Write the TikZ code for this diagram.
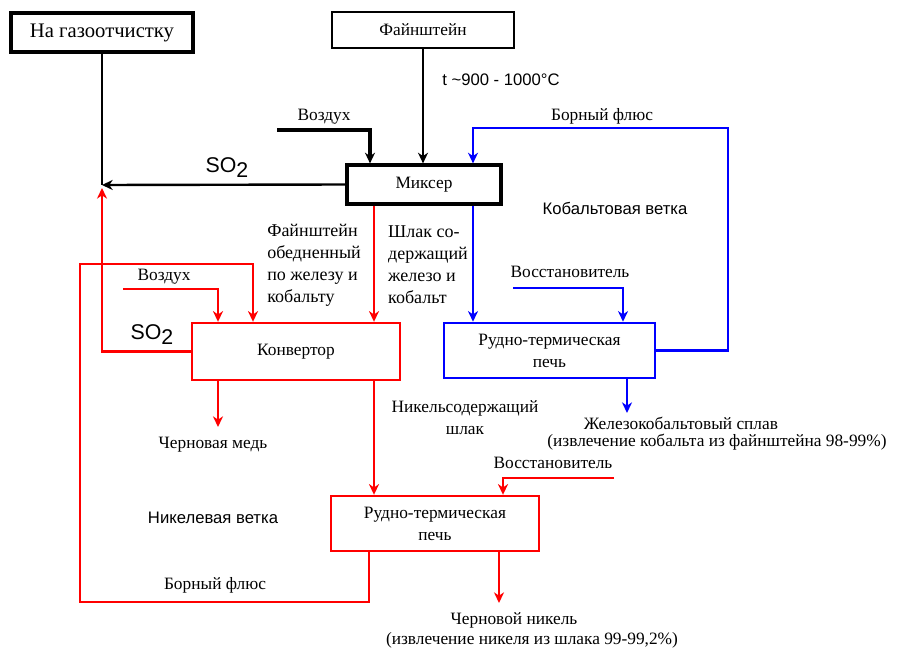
\documentclass[tikz,border=0pt]{standalone}
\usepackage{fontspec}
\setmainfont{Liberation Serif}
\setsansfont{Liberation Sans}
\usetikzlibrary{arrows.meta,calc}
\definecolor{cred}{RGB}{255,0,0}
\definecolor{cblue}{RGB}{0,0,255}
\newcommand{\sotwo}{SO\raisebox{-0.45ex}{\fontsize{16}{18}\selectfont 2}}
\begin{document}
\begin{tikzpicture}[x=0.75pt,y=-0.75pt,
  lbl/.style={font=\fontsize{13}{16.5}\selectfont, inner sep=0pt},
  slbl/.style={font=\sffamily\fontsize{12.5}{15}\selectfont, inner sep=0pt},
  sobig/.style={font=\sffamily\fontsize{16}{18}\selectfont, inner sep=0pt},
  box/.style={draw, rectangle, inner sep=0pt, align=center, font=\fontsize{13}{16.5}\selectfont},
  conn/.style={line width=1.8pt},
  arr/.style={conn, -{Stealth[length=8pt,width=7.5pt,inset=2.5pt]}},
  arrR/.style={arr, cred},
  arrB/.style={arr, cblue}]
\fill[white] (0,0) rectangle (910,660);
\useasboundingbox (0,0) rectangle (910,660);

% boxes
\node[box, line width=2.4pt, minimum width=136.5pt, minimum height=29.25pt, font=\fontsize{15.5}{18}\selectfont] (gas) at (102,32.5) {На газоотчистку};
\node[box, line width=1.8pt, minimum width=136.5pt, minimum height=27pt] (fain) at (423,30) {Файнштейн};
\node[box, line width=2.4pt, minimum width=115.5pt, minimum height=29.25pt] (mixer) at (424,184.5) {Миксер};
\node[box, draw=cred, line width=1.8pt, minimum width=156pt, minimum height=42.75pt] (conv) at (296,351.5) {Конвертор};
\node[box, draw=cblue, line width=1.9pt, minimum width=158.25pt, minimum height=41.25pt] (cofur) at (549.5,350.5) {Рудно-термическая\\печь};
\node[box, draw=cred, line width=1.8pt, minimum width=156pt, minimum height=41.25pt] (nifur) at (435,523.5) {Рудно-термическая\\печь};

% black connectors
\coordinate (so2j) at (102,185);
\draw[conn] (gas.south) -- (so2j);
\draw[arr] (mixer.west) -- (so2j);
\draw[arr] (fain.south) -- (423,0 |- mixer.north);
\coordinate (airB) at (277,130);
\draw[arr, line width=2.4pt] (airB) -| (370,0 |- mixer.north);

% blue connectors
\draw[arrB] (cofur.east) -| (728,128) -| (473,0 |- mixer.north);
\draw[arrB] (473,0 |- mixer.south) -- (473,0 |- cofur.north);
\coordinate (bluR) at (513,288);
\draw[arrB] (bluR) -| (623,0 |- cofur.north);
\coordinate (feco) at (627,413);
\draw[arrB] (627,0 |- cofur.south) -- (feco);

% red connectors
\draw[arrR] (374,0 |- mixer.south) -- (374,0 |- conv.north);
\coordinate (airR) at (123,289);
\draw[arrR] (airR) -| (218,0 |- conv.north);
\draw[arrR] (369,0 |- nifur.south) -- (369,602) -| (80,264) -| (253,0 |- conv.north);
\draw[arrR] (conv.west) -| ($(so2j)+(0,3)$);
\coordinate (cu) at (218,427);
\draw[arrR] (218,0 |- conv.south) -- (cu);
\draw[arrR] (374,0 |- conv.south) -- (374,0 |- nifur.north);
\coordinate (redR) at (614,478);
\draw[arrR] (redR) -| (503,0 |- nifur.north);
\coordinate (ni) at (499,603);
\draw[arrR] (499,0 |- nifur.south) -- (ni);

% labels
\node[sobig] (l1) at (227,168) {\sotwo};
\node[slbl] (l2) at (501,80) {t \textasciitilde900 - 1000°C};
\node[lbl] (l3) at (324,117) {Воздух};
\node[lbl] (l4) at (602,116) {Борный флюс};
\node[slbl] (l5) at (615,208) {Кобальтовая ветка};
\node[lbl, align=left, font=\fontsize{13.5}{16.5}\selectfont] (l6) at (314,265) {Файнштейн\\обедненный\\по железу и\\кобальту};
\node[lbl, align=left, font=\fontsize{13.5}{16.5}\selectfont] (l7) at (428,265) {Шлак со-\\держащий\\железо и\\кобальт};
\node[lbl] (l8) at (164,277) {Воздух};
\node[sobig] (l9) at (152,335) {\sotwo};
\node[lbl] (l10) at (570,272) {Восстановитель};
\node[lbl, align=center] (l11) at (465,418) {Никельсодержащий\\шлак};
\node[lbl] (l12) at (213,445) {Черновая медь};
\node[lbl] (l13) at (681,423) {Железокобальтовый сплав};
\node[lbl] (l14) at (717,442) {(извлечение кобальта из файнштейна 98-99\%)};
\node[lbl] (l15) at (553,463) {Восстановитель};
\node[slbl] (l16) at (213,518) {Никелевая ветка};
\node[lbl] (l17) at (215,585) {Борный флюс};
\node[lbl] (l18) at (514,620) {Черновой никель};
\node[lbl] (l19) at (532,640) {(извлечение никеля из шлака 99-99,2\%)};
\end{tikzpicture}
\end{document}
